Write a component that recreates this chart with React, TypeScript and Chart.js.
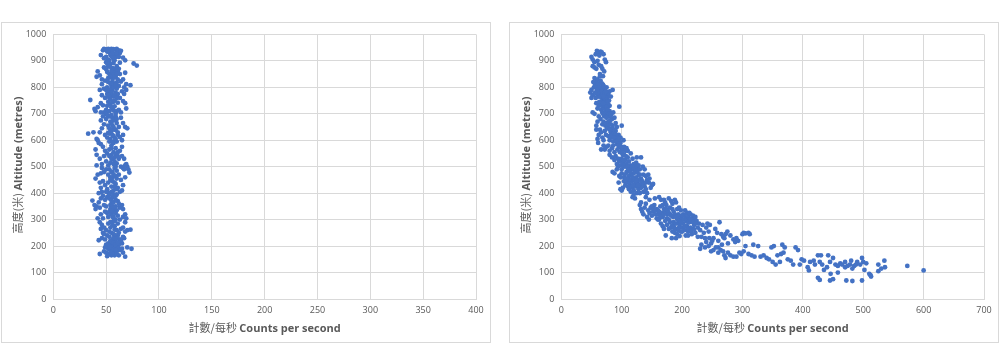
import React, { useEffect, useRef } from "react";
import { Chart, registerables } from "chart.js";

Chart.register(...registerables);

// Left panel: counts per second vs altitude (flat profile)
const LEFT_POINTS: [number, number][] = [
  [45,922],[47,940],[48,945],[50,943],[51,935],[52,945],[53,940],[54,930],[55,945],[56,938],[57,944],[58,925],[59,942],[60,945],[61,936],[62,940],[63,930],[64,938],[66,912],[68,902],[76,890],[79,882],[50,915],[52,905],[55,918],[57,908],[59,915],[53,900],[48,910],[61,920],[56,928],
  [48,875],[50,868],[52,880],[54,888],[56,872],[58,865],[60,880],[62,870],[51,858],[53,850],[55,845],[57,855],[59,840],[61,830],[63,850],[42,860],[41,840],[44,845],[46,830],[49,825],[52,820],[54,815],[56,832],[58,812],[60,818],[64,822],[66,830],[68,855],[69,812],[73,808],[67,800],[51,800],[48,795],[55,805],[62,805],[46,812],[57,892],[50,895],[63,893],
  [35,752],[39,718],[40,710],[42,725],[45,740],[47,732],[49,760],[51,775],[53,785],[55,770],[57,765],[59,780],[61,775],[63,760],[66,748],[68,740],[69,720],[52,745],[54,735],[56,720],[58,728],[60,710],[62,715],[64,705],[48,705],[50,715],[46,770],[44,790],[50,790],[56,790],[60,795],[65,785],[53,760],[57,745],[51,730],[45,705],[67,775],[69,790],
  [33,625],[38,630],[41,605],[42,600],[44,630],[46,645],[48,660],[50,680],[52,690],[54,670],[56,655],[58,640],[60,665],[62,650],[64,685],[66,665],[68,650],[70,645],[49,620],[51,610],[53,625],[55,635],[57,615],[59,605],[61,620],[63,612],[65,600],[47,690],[50,700],[55,695],[59,690],[45,675],[66,620],[52,655],[57,675],[54,605],
  [40,565],[41,545],[43,590],[45,585],[47,575],[49,560],[51,550],[53,565],[55,580],[57,590],[59,570],[61,555],[63,560],[65,575],[67,530],[69,510],[70,500],[71,490],[72,478],[50,520],[52,505],[54,515],[56,530],[58,520],[60,512],[62,530],[64,500],[66,495],[68,505],[46,510],[44,530],[48,540],[55,545],[60,595],[53,595],[41,505],[46,495],[65,540],
  [40,455],[42,470],[44,440],[45,420],[46,405],[48,480],[50,490],[52,470],[54,450],[56,460],[58,440],[60,455],[62,470],[64,450],[66,430],[68,460],[49,430],[51,415],[53,400],[55,425],[57,410],[59,435],[61,420],[63,405],[65,410],[47,445],[50,405],[56,480],[60,485],[43,400],[67,490],[58,495],[45,475],[52,440],
  [37,372],[39,355],[40,340],[41,350],[43,365],[45,380],[47,390],[49,375],[51,385],[53,395],[55,360],[57,340],[59,350],[61,370],[63,345],[65,355],[66,340],[68,320],[69,305],[45,320],[47,305],[49,330],[51,325],[53,330],[55,320],[57,310],[59,325],[61,315],[63,300],[42,305],[44,345],[50,350],[56,385],[60,395],[62,360],[54,340],[52,310],[48,355],[66,310],
  [44,290],[45,265],[46,280],[47,250],[48,270],[50,260],[52,285],[54,270],[56,290],[58,275],[60,260],[62,250],[64,265],[66,270],[68,255],[70,260],[73,262],[43,222],[46,230],[49,225],[51,240],[53,235],[55,215],[57,230],[59,220],[61,240],[63,225],[65,210],[67,230],[50,205],[52,210],[54,200],[56,205],[58,210],[60,200],[62,205],[64,220],[66,235],[48,245],[57,295],[61,285],[68,290],
  [44,170],[48,180],[50,175],[51,162],[52,190],[53,170],[54,185],[55,165],[56,195],[57,175],[58,190],[59,170],[60,180],[61,195],[62,165],[63,185],[65,190],[66,175],[68,160],[70,195],[74,190],[49,195],[53,198],[58,165],[55,182],
  [52,935],[54,922],[56,912],[58,902],[60,928],[62,915],[51,890],[53,878],[55,862],[57,848],[59,870],[61,860],[54,840],[56,822],[58,838],[60,850],[52,835],[55,815],[57,800],[59,808],[53,790],[55,780],[58,770],[60,760],[54,755],[56,745],[58,750],[52,770],[61,742],[55,725],[57,712],[59,700],[53,710],[51,695],[56,685],[58,678],[54,690],[60,680],[55,665],[53,645],[57,650],[59,640],[61,630],[56,620],[54,640],[52,628],[58,600],[56,592],[55,570],[57,555],[59,548],[53,540],[55,530],[58,535],[61,540],[57,510],[59,500],[53,490],[55,480],[57,470],[59,465],[54,460],[56,445],[58,425],[60,415],[55,405],[57,395],[59,390],[53,380],[55,372],[57,365],[59,375],[54,355],[56,350],[58,345],[60,335],[57,330],[55,335],[59,300],[56,310],[58,295],[54,290],[56,278],[58,262],[55,250],[57,245],[59,240],[53,255],[60,230],[56,225],[58,228],[54,220],[57,212],[59,205],[61,212],[55,195],[57,188],[59,185],[60,170],[56,170],[54,175],
];

// Right panel: counts per second vs altitude (decaying profile)
const RIGHT_POINTS: [number, number][] = [
  [50,915],[52,905],[55,895],[57,925],[59,938],[61,930],[63,920],[65,935],[67,932],[70,925],[72,905],[74,895],[60,900],[62,885],[55,875],[58,870],[66,880],[68,870],[71,860],[64,850],[69,842],[52,880],
  [48,780],[50,790],[52,770],[54,800],[56,810],[58,820],[60,805],[62,795],[64,785],[66,800],[68,790],[70,780],[72,795],[74,770],[76,760],[78,775],[80,785],[85,790],[57,760],[59,775],[61,765],[63,815],[65,770],[67,760],[69,810],[71,750],[73,755],[55,835],[60,830],[64,842],[50,760],[53,820],[75,800],[82,765],[79,750],
  [52,705],[55,700],[58,740],[60,720],[62,730],[64,740],[66,715],[68,705],[70,725],[72,735],[74,715],[76,700],[78,690],[80,710],[82,695],[84,680],[86,705],[88,685],[96,727],[60,670],[62,690],[65,680],[68,660],[70,670],[73,655],[75,665],[77,650],[79,660],[81,675],[85,655],[90,665],[92,650],[100,655],[58,655],[66,745],[73,740],[80,730],[71,690],
  [58,640],[60,605],[61,590],[62,620],[64,640],[66,630],[68,610],[70,600],[72,635],[74,620],[76,645],[78,615],[80,600],[82,630],[84,610],[86,595],[88,620],[90,605],[92,585],[94,600],[96,575],[98,590],[100,570],[102,565],[104,575],[106,560],[108,570],[72,565],[75,575],[78,580],[80,560],[84,570],[88,555],[93,565],[97,555],[85,640],[90,635],[95,620],[98,610],[70,580],[66,565],[103,600],[86,580],[110,560],
  [80,545],[84,535],[88,525],[90,540],[92,510],[94,530],[96,520],[98,505],[100,490],[102,515],[104,500],[106,525],[108,510],[110,495],[112,520],[114,505],[116,490],[118,530],[120,510],[122,500],[124,515],[126,495],[128,505],[130,490],[132,535],[85,480],[88,475],[92,490],[96,465],[100,475],[104,460],[108,480],[112,465],[116,470],[120,475],[124,460],[128,470],[132,455],[136,470],[140,465],[144,470],[102,545],[110,535],[115,550],[94,500],[135,500],[138,490],[125,535],[142,450],[98,460],
  [95,440],[98,415],[100,410],[102,420],[104,445],[106,430],[108,440],[110,425],[112,415],[114,430],[116,445],[118,420],[120,410],[122,435],[124,425],[126,440],[128,415],[130,430],[132,420],[134,445],[136,405],[138,425],[140,415],[145,440],[150,430],[152,435],[115,405],[125,400],[120,395],[130,400],[112,440],[106,450],[128,450],[118,385],[122,380],
  [130,355],[132,340],[134,330],[136,320],[138,345],[140,360],[142,310],[144,335],[146,325],[148,345],[150,315],[152,330],[154,355],[156,320],[158,305],[160,335],[162,385],[164,350],[166,325],[168,310],[170,340],[172,365],[174,355],[176,320],[178,300],[180,345],[182,370],[184,360],[186,330],[188,375],[190,365],[192,340],[194,320],[196,310],[198,335],[200,300],[202,320],[204,315],[206,305],[208,325],[210,310],[212,300],[214,320],[216,305],[218,315],[220,300],[222,310],[140,385],[146,375],[155,380],[165,375],[170,375],[178,380],[150,350],[160,300],[175,305],[185,310],[195,345],[205,335],[212,325],[145,300],[168,355],[132,365],[158,340],
  [165,285],[168,275],[170,265],[172,295],[175,280],[178,265],[180,290],[182,270],[184,255],[186,275],[188,250],[190,265],[192,245],[194,260],[196,280],[198,255],[200,270],[202,285],[204,260],[206,240],[208,275],[210,255],[212,290],[214,270],[216,245],[218,265],[220,280],[222,250],[224,295],[226,270],[228,285],[230,260],[232,235],[234,280],[236,250],[238,230],[240,270],[242,285],[244,255],[246,280],[248,210],[250,220],[252,230],[255,265],[258,250],[260,220],[262,290],[265,245],[268,235],[270,230],[272,245],[275,255],[280,240],[285,225],[288,215],[290,230],[300,245],[302,250],[305,248],[310,250],[312,245],[173,240],[183,230],[190,230],[196,238],[210,240],[226,235],[232,205],[240,215],[245,230],[260,195],[266,205],[276,210],[293,220],[186,290],[198,305],[162,300],
  [230,190],[238,195],[244,200],[248,180],[252,185],[256,195],[260,175],[264,185],[268,180],[270,165],[272,155],[276,175],[280,165],[285,160],[290,160],[295,175],[298,170],[302,180],[305,200],[310,170],[315,165],[318,205],[320,160],[326,200],[330,160],[335,165],[340,155],[344,150],[348,195],[350,140],[352,200],[355,130],[358,165],[362,140],[364,170],[366,205],[368,175],[370,195],[375,150],[380,145],[384,130],[388,195],[392,185],[395,130],[398,150],[402,145],[408,120],[412,140],[418,145],[420,130],[425,165],[428,140],[430,165],[432,130],[435,110],[440,120],[442,165],[445,140],[450,155],[454,130],[458,125],[462,135],[465,130],[470,140],[474,125],[478,130],[480,145],[482,115],[485,125],[488,130],[490,140],[495,130],[498,155],[500,140],[502,110],[505,135],[510,95],[512,90],[525,130],[530,115],[535,145],[536,120],[573,125],[600,108],[425,80],[428,72],[445,70],[450,75],[472,70],[482,68],[498,70],[410,108],[446,95],[458,100],[470,120],[513,85],[525,105],
  [58,800],[60,785],[62,775],[64,765],[66,790],[68,775],[70,765],[72,780],[61,812],[63,800],[65,825],[67,815],[70,805],[59,790],[56,780],[74,785],[76,745],[78,735],[63,745],[67,730],[69,740],[71,720],[73,705],[75,725],[77,715],[79,700],[81,690],[83,700],[69,700],[75,685],[78,670],[82,660],[84,645],[86,625],[88,640],[90,620],[92,610],[94,590],[96,605],[80,640],[82,615],[87,610],[91,595],[95,580],[99,575],[101,550],[104,545],[107,540],[100,530],[103,525],[106,505],[109,500],[112,490],[114,480],[117,500],[120,490],[122,480],[118,460],[121,450],[124,445],[127,430],[110,455],[113,450],[116,425],[119,430],[105,470],[108,455],[126,480],[130,470],[133,440],[136,435],[140,440],[146,455],[148,420],[138,405],[142,400],[150,345],[153,340],[156,335],[160,320],[162,330],[164,310],[170,320],[172,330],[174,340],[176,335],[178,325],[180,320],[182,315],[184,340],[188,320],[190,310],[192,300],[195,295],[198,290],[200,315],[203,300],[207,295],[210,290],[214,300],[218,290],[222,285],[190,285],[195,270],[200,255],[205,275],[210,265],[215,258],[220,262],[188,265],[183,275],
];

const Y_TICK_MIN = 0;
const Y_TICK_MAX = 1000;
const Y_TICK_STEP = 100;
const LEFT_X_MAX = 400;
const LEFT_X_STEP = 50;
const RIGHT_X_MAX = 700;
const RIGHT_X_STEP = 100;

const X_TITLE_CJK = "計數/每秒";
const X_TITLE_EN = "Counts per second";
const Y_TITLE_CJK = "高度(米)";
const Y_TITLE_EN = "Altitude (metres)";

const POINT_COLOR = "#4472C4";
const GRID_COLOR = "#d9d9d9";
const TEXT_COLOR = "#595959";
const TICK_FONT = "'Open Sans', 'Liberation Sans', sans-serif";
const CJK_FONT = "'Noto Sans CJK TC', 'Noto Sans CJK SC', sans-serif";

type PanelProps = {
  left: number;
  points: [number, number][];
  xMax: number;
  xStep: number;
};

const PANEL_TOP = 22;
const PANEL_W = 490;
const PANEL_H = 321;

function Panel({ left, points, xMax, xStep }: PanelProps) {
  const ref = useRef<HTMLCanvasElement>(null);
  useEffect(() => {
    if (!ref.current) return;
    const chart = new Chart(ref.current, {
      type: "scatter",
      data: {
        datasets: [
          {
            data: points.map(([x, y]) => ({ x, y })),
            backgroundColor: POINT_COLOR,
            borderColor: POINT_COLOR,
            borderWidth: 0,
            pointRadius: 2.4,
            pointHoverRadius: 2.4,
          },
        ],
      },
      options: {
        animation: false,
        responsive: false,
        devicePixelRatio: 1,
        layout: { padding: { left: 0, right: 15, top: 9.3, bottom: 0 } },
        plugins: { legend: { display: false }, tooltip: { enabled: false } },
        scales: {
          x: {
            type: "linear",
            min: 0,
            max: xMax,
            afterFit: (s: any) => {
              s.height = 44;
            },
            ticks: {
              stepSize: xStep,
              color: TEXT_COLOR,
              font: { family: TICK_FONT, size: 9 },
              padding: 6,
              maxRotation: 0,
              callback: (v: any) => String(v),
            },
            grid: { color: GRID_COLOR, drawTicks: false, lineWidth: 1 },
            border: { color: GRID_COLOR },
          },
          y: {
            type: "linear",
            min: Y_TICK_MIN,
            max: Y_TICK_MAX,
            afterFit: (s: any) => {
              s.width = 52.3;
            },
            ticks: {
              stepSize: Y_TICK_STEP,
              color: TEXT_COLOR,
              font: { family: TICK_FONT, size: 9 },
              padding: 7,
              callback: (v: any) => String(v),
            },
            grid: { color: GRID_COLOR, drawTicks: false, lineWidth: 1 },
            border: { color: GRID_COLOR },
          },
        },
      },
    });
    return () => chart.destroy();
  }, [points, xMax, xStep]);

  const plotCenterX = 52.3 + (475 - 52.3) / 2;
  const plotCenterY = 9.3 + (277 - 9.3) / 2;

  return (
    <div
      style={{
        position: "absolute",
        left,
        top: PANEL_TOP,
        width: PANEL_W,
        height: PANEL_H,
        boxSizing: "border-box",
        border: `1px solid ${GRID_COLOR}`,
      }}
    >
      <canvas
        ref={ref}
        width={PANEL_W}
        height={PANEL_H}
        style={{ position: "absolute", left: -1, top: -1, width: PANEL_W, height: PANEL_H }}
      />
      <div
        style={{
          position: "absolute",
          left: plotCenterX - 1 - 150,
          width: 300,
          top: 305 - 1 - 8,
          height: 16,
          lineHeight: "16px",
          textAlign: "center",
          color: TEXT_COLOR,
          whiteSpace: "nowrap",
          fontSize: 11,
        }}
      >
        <span style={{ fontFamily: CJK_FONT, fontWeight: 400 }}>{X_TITLE_CJK} </span>
        <span style={{ fontFamily: TICK_FONT, fontWeight: 700 }}>{X_TITLE_EN}</span>
      </div>
      <div
        style={{
          position: "absolute",
          left: 15.5 - 1 - 150,
          top: plotCenterY - 1 - 8,
          width: 300,
          height: 16,
          lineHeight: "16px",
          textAlign: "center",
          color: TEXT_COLOR,
          whiteSpace: "nowrap",
          fontSize: 11,
          transform: "rotate(-90deg)",
        }}
      >
        <span style={{ fontFamily: CJK_FONT, fontWeight: 400 }}>{Y_TITLE_CJK} </span>
        <span style={{ fontFamily: TICK_FONT, fontWeight: 700 }}>{Y_TITLE_EN}</span>
      </div>
    </div>
  );
}

export default function App() {
  return (
    <div
      style={{
        position: "absolute",
        left: 0,
        top: 0,
        width: 1000,
        height: 352,
        background: "#ffffff",
        overflow: "hidden",
      }}
    >
      <Panel left={1} points={LEFT_POINTS} xMax={LEFT_X_MAX} xStep={LEFT_X_STEP} />
      <Panel left={509} points={RIGHT_POINTS} xMax={RIGHT_X_MAX} xStep={RIGHT_X_STEP} />
    </div>
  );
}
